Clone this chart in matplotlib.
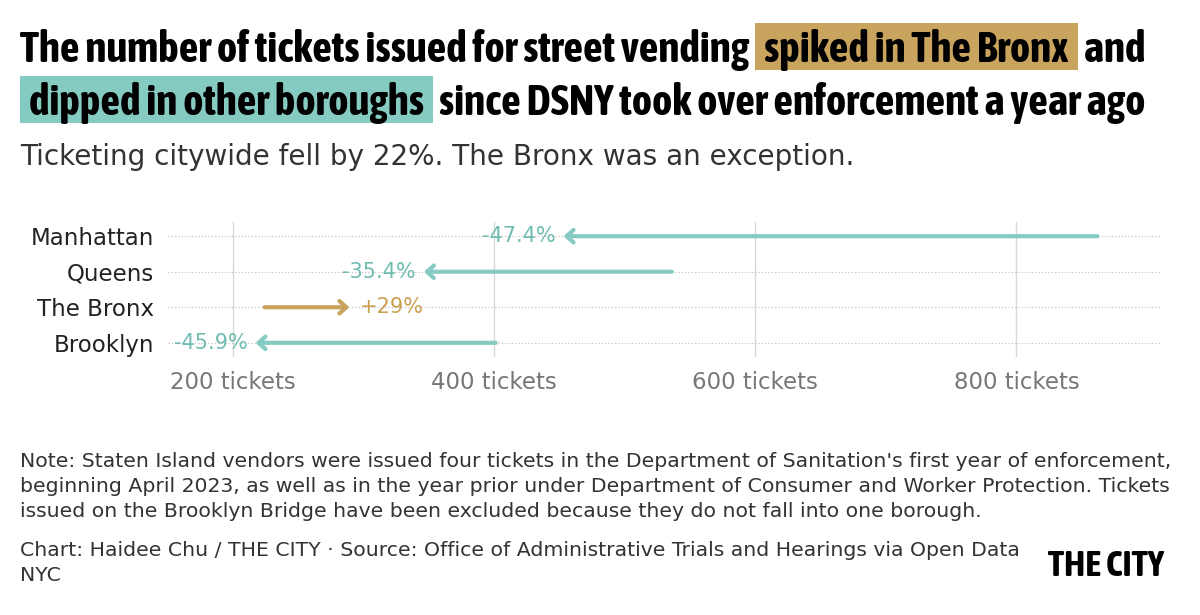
import matplotlib
matplotlib.use("Agg")
import matplotlib.pyplot as plt
from matplotlib import font_manager
from matplotlib.patches import Rectangle

boroughs = ["Manhattan", "Queens", "The Bronx", "Brooklyn"]
before = [862, 536, 224, 401]
after = [453, 346, 289, 217]
change_labels = ["-47.4%", "-35.4%", "+29%", "-45.9%"]
tick_values = [200, 400, 600, 800]
tick_labels = ["200 tickets", "400 tickets", "600 tickets", "800 tickets"]

TEAL = "#86cbc2"
TEAL_TXT = "#6fbcb1"
TAN = "#c9a45e"
TAN_TXT = "#c9a050"

# look for a narrow bold face for the headline, otherwise Roboto
cond_family = "Roboto"
for f in font_manager.fontManager.ttflist:
    if ("Narrow" in f.name or "Condensed" in f.name) and f.weight in (600, 700, 800, "bold"):
        cond_family = f.name
        break
head = [cond_family, "DejaVu Sans"]
body = ["DejaVu Sans"]

fig = plt.figure(figsize=(12, 6.15), dpi=100)
W, H = 1200, 615
renderer = fig.canvas.get_renderer()


def px(x, y):
    return x / W, 1 - y / H


def measure(txt, size, family, weight="normal"):
    t = fig.text(0, 0, txt, fontsize=size, family=family, fontweight=weight)
    w = t.get_window_extent(renderer).width
    t.remove()
    return w


def fit(txt, width, family, weight="normal", base=20):
    return base * width / measure(txt, base, family, weight)


PAD = 9
line1 = [("The number of tickets issued for street vending ", None),
         ("spiked in The Bronx", TAN), (" and", None)]
line2 = [("dipped in other boroughs", TEAL),
         (" since DSNY took over enforcement a year ago", None)]


def line_width(pieces, size):
    return sum(measure(t, size, head, "bold") + (2 * PAD if hl else 0) for t, hl in pieces)


title_size = min(33 * 1140 / line_width(line1, 33), 33 * 1125 / line_width(line2, 33))


def title_line(pieces, x0, y, size):
    x = x0
    for txt, hl in pieces:
        if hl:
            x += PAD
        t = fig.text(*px(x, y), txt, fontsize=size, fontweight="bold",
                     family=head, va="baseline", ha="left", color="black", zorder=3)
        w = t.get_window_extent(renderer).width
        if hl:
            fig.patches.append(Rectangle(px(x - PAD, y + 8), (w + 2 * PAD) / W, 47 / H,
                                         transform=fig.transFigure, facecolor=hl,
                                         edgecolor="none", zorder=1))
            w += PAD
        x += w


title_line(line1, 20, 62, title_size)
title_line(line2, 20, 115, title_size)

sub = "Ticketing citywide fell by 22%. The Bronx was an exception."
fig.text(*px(20, 165), sub, fontsize=fit(sub, 837, body), color="#333333",
         family=body, va="baseline")

# chart area
ax = fig.add_axes([168 / W, 1 - 357 / H, (1160 - 168) / W, (357 - 222) / H])
ax.set_xlim(150, 910)
ypos = list(range(len(boroughs)))
ax.set_ylim(3.4, -0.4)
for v in tick_values:
    ax.axvline(v, color="#d8d8d8", lw=1, zorder=0)
for i in ypos:
    ax.axhline(i, color="#bbbbbb", lw=0.8, ls=(0, (1, 2)), zorder=0)

for i, (b, a, lab) in enumerate(zip(before, after, change_labels)):
    up = a > b
    col = TAN if up else TEAL
    tcol = TAN_TXT if up else TEAL_TXT
    ax.annotate("", xy=(a, i), xytext=(b, i),
                arrowprops=dict(arrowstyle="->,head_width=0.45,head_length=0.5",
                                color=col, lw=3, shrinkA=0, shrinkB=0))
    if up:
        ax.text(a + 8, i, lab, color=tcol, fontsize=15, family=body,
                va="center", ha="left")
    else:
        ax.text(a - 6, i, lab, color=tcol, fontsize=15, family=body,
                va="center", ha="right")

ax.set_yticks(ypos)
ax.set_yticklabels(boroughs, fontsize=16.5, family=body, color="#222222")
ax.set_xticks(tick_values)
ax.set_xticklabels(tick_labels, fontsize=16.5, family=body, color="#777777")
ax.tick_params(length=0, axis="y", pad=10)
ax.tick_params(length=0, axis="x", pad=10)
for s in ax.spines.values():
    s.set_visible(False)
ax.patch.set_alpha(0)

note1 = "Note: Staten Island vendors were issued four tickets in the Department of Sanitation's first year of enforcement,"
note_size = fit(note1, 1148, body)
note = (note1 + "\n"
        "beginning April 2023, as well as in the year prior under Department of Consumer and Worker Protection. Tickets\n"
        "issued on the Brooklyn Bridge have been excluded because they do not fall into one borough.")
fig.text(*px(20, 452), note, fontsize=note_size, color="#333333", family=body,
         va="top", linespacing=1.4)
fig.text(*px(20, 541), "Chart: Haidee Chu / THE CITY \u00b7 Source: Office of Administrative Trials and Hearings via Open Data\nNYC",
         fontsize=note_size, color="#333333", family=body, va="top", linespacing=1.4)
fig.text(*px(1164, 576), "THE CITY", fontsize=fit("THE CITY", 115, head, "bold"),
         fontweight="bold", family=head, ha="right", va="baseline")

fig.savefig("out.png", dpi=100, facecolor="white")
